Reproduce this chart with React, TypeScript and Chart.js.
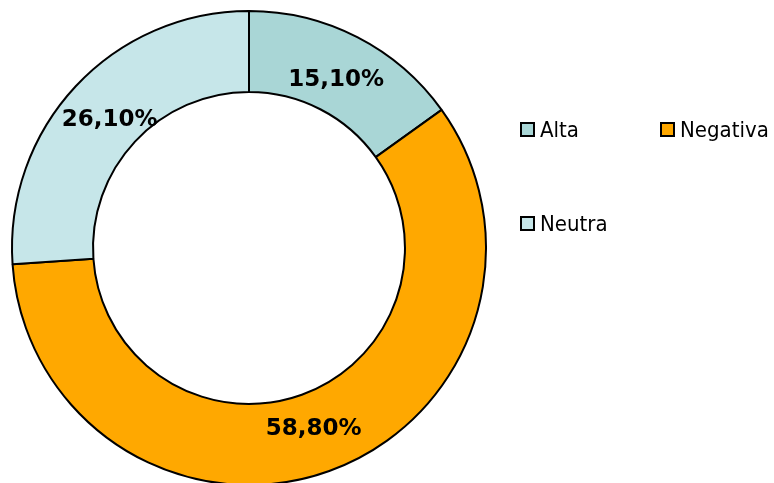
import React, { useEffect, useRef } from "react";
import { Chart, registerables } from "chart.js";

Chart.register(...registerables);

const categories = ["Alta", "Negativa", "Neutra"];
const values = [15.1, 58.8, 26.1];
const colors = ["#A9D6D6", "#FFA800", "#C6E6E9"];

const fmt = (v: number) => v.toFixed(2).replace(".", ",") + "%";

const labelPlugin = {
  id: "arcLabels",
  afterDatasetsDraw(chart: any) {
    const ctx = chart.ctx;
    const meta = chart.getDatasetMeta(0);
    ctx.save();
    ctx.font = "bold 23px 'DejaVu Sans'";
    ctx.fillStyle = "#000";
    ctx.textAlign = "center";
    ctx.textBaseline = "middle";
    meta.data.forEach((arc: any, i: number) => {
      const p = arc.getProps(["x", "y", "startAngle", "endAngle", "innerRadius", "outerRadius"], true);
      const mid = (p.startAngle + p.endAngle) / 2;
      const r = (p.innerRadius + p.outerRadius) / 2 * 0.97;
      ctx.fillText(fmt(values[i]), p.x + Math.cos(mid) * r, p.y + Math.sin(mid) * r + 2);
    });
    ctx.restore();
  },
};

const legendPos = [
  { x: 521, y: 123 },
  { x: 661, y: 123 },
  { x: 521, y: 217 },
];

const legendPlugin = {
  id: "gridLegend",
  afterDraw(chart: any) {
    const ctx = chart.ctx;
    ctx.save();
    ctx.font = "22px 'DejaVu Sans Condensed', 'DejaVu Sans'";
    ctx.textBaseline = "middle";
    ctx.textAlign = "left";
    chart.data.labels.forEach((lab: string, i: number) => {
      const pos = legendPos[i];
      ctx.fillStyle = chart.data.datasets[0].backgroundColor[i];
      ctx.fillRect(pos.x, pos.y, 13, 13);
      ctx.lineWidth = 2;
      ctx.strokeStyle = "#000";
      ctx.strokeRect(pos.x, pos.y, 13, 13);
      ctx.fillStyle = "#000";
      ctx.fillText(lab, pos.x + 19, pos.y + 8);
    });
    ctx.restore();
  },
};

export default function App() {
  const ref = useRef<HTMLCanvasElement>(null);
  useEffect(() => {
    if (!ref.current) return;
    const chart = new Chart(ref.current, {
      type: "doughnut",
      data: {
        labels: categories,
        datasets: [
          {
            data: values,
            backgroundColor: colors,
            borderColor: "#000",
            borderWidth: 2,
            hoverOffset: 0,
          },
        ],
      },
      options: {
        animation: false,
        responsive: false,
        radius: 237,
        cutout: 154,
        layout: { padding: { left: 0, right: 276, top: 13, bottom: 0 } },
        plugins: {
          legend: { display: false },
          tooltip: { enabled: false },
        },
      },
      plugins: [labelPlugin, legendPlugin],
    });
    return () => chart.destroy();
  }, []);
  return (
    <div style={{ position: "absolute", left: 0, top: 0, width: 774, height: 483, background: "#fff" }}>
      <canvas ref={ref} width={774} height={483} style={{ width: 774, height: 483 }} />
    </div>
  );
}
